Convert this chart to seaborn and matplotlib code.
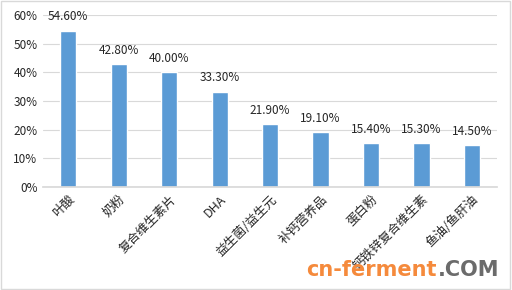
import matplotlib
matplotlib.use("Agg")
import matplotlib.pyplot as plt
import seaborn as sns
import pandas as pd
from matplotlib.ticker import FuncFormatter
from matplotlib.patches import Rectangle

categories = ["叶酸", "奶粉", "复合维生素片", "DHA", "益生菌/益生元", "补钙营养品", "蛋白粉", "钙铁锌复合维生素", "鱼油/鱼肝油"]
values = [54.6, 42.8, 40.0, 33.3, 21.9, 19.1, 15.4, 15.3, 14.5]
yticks = [0, 10, 20, 30, 40, 50, 60]

sns.set_theme(style="white")
plt.rcParams['font.family'] = ['Noto Sans CJK SC', 'DejaVu Sans']

df = pd.DataFrame({"cat": categories, "val": values})
fig = plt.figure(figsize=(5.12, 2.90), dpi=100)
ax = fig.add_axes([0.084, 0.355, 0.887, 0.593])
sns.barplot(data=df, x="cat", y="val", color="#5B9BD5", width=0.32, ax=ax, saturation=1)
ax.set_ylim(0, 60)
ax.set_yticks(yticks)
ax.yaxis.set_major_formatter(FuncFormatter(lambda v, p: f"{int(v)}%"))
ax.grid(axis="y", color="#D9D9D9", linewidth=0.8)
ax.set_axisbelow(True)
for s in ["top", "right", "left"]:
    ax.spines[s].set_visible(False)
ax.spines["bottom"].set_color("#D9D9D9")
ax.set_xlabel("")
ax.set_ylabel("")
ax.tick_params(axis="y", length=0, labelsize=8.5, colors="#262626", pad=4)
ax.tick_params(axis="x", length=0, labelsize=9, colors="#262626", pad=4)
ax.set_xticks(range(len(categories)))
ax.set_xticklabels(categories, rotation=45, ha="right", va="top", rotation_mode="anchor")
for i, v in enumerate(values):
    ax.text(i, v + 2.5, f"{v:.2f}%", ha="center", va="bottom", fontsize=8.5, color="#262626")

fig.patches.append(Rectangle((0.002, 0.003), 0.995, 0.993, transform=fig.transFigure,
                             fill=False, edgecolor="#D9D9D9", linewidth=1))
t1 = fig.text(0.975, 0.035, ".COM", fontsize=15, fontweight="bold", color="#6B6B6B",
              ha="right", va="bottom", family="DejaVu Sans")
fig.canvas.draw()
bb = t1.get_window_extent(fig.canvas.get_renderer())
x0 = bb.x0 / fig.bbox.width
fig.text(x0 - 0.002, 0.035, "cn-ferment", fontsize=15, fontweight="bold", color="#F58A3C",
         ha="right", va="bottom", family="DejaVu Sans")
fig.savefig("out.png", dpi=100)
